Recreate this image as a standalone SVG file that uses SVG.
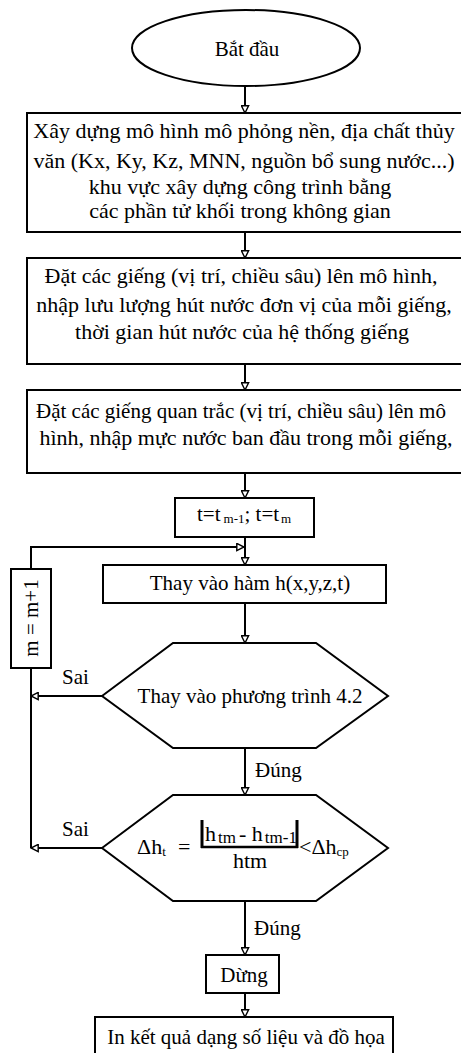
<svg xmlns="http://www.w3.org/2000/svg" width="461" height="1053" viewBox="0 0 461 1053">
  <style>
    .shape { fill: #ffffff; stroke: #000000; stroke-width: 2; }
    .wire { fill: none; stroke: #000000; stroke-width: 2; }
    .t { font-family: "Liberation Serif", "Times New Roman", serif; font-size: 21px; fill: #000000; }
    .big { font-size: 22px; }
    .mid { text-anchor: middle; }
    .sub { font-size: 13px; }
    .sub2 { font-size: 17px; }
  </style>
  <defs>
    <marker id="arrow" viewBox="0 0 10 10" refX="9" refY="5" markerWidth="9" markerHeight="9" markerUnits="userSpaceOnUse" orient="auto">
      <path d="M1,1 L9,5 L1,9 z" fill="#ffffff" stroke="#000000" stroke-width="1.6"/>
    </marker>
  </defs>
  <rect width="461" height="1053" fill="#ffffff"/>

  <!-- connectors -->
  <g id="connectors">
    <line class="wire" x1="245" y1="86" x2="245" y2="113" marker-end="url(#arrow)"/>
    <line class="wire" x1="245" y1="232" x2="245" y2="258" marker-end="url(#arrow)"/>
    <line class="wire" x1="245" y1="364" x2="245" y2="390" marker-end="url(#arrow)"/>
    <line class="wire" x1="245" y1="473" x2="245" y2="498" marker-end="url(#arrow)"/>
    <line class="wire" x1="245" y1="537" x2="245" y2="565" marker-end="url(#arrow)"/>
    <polyline class="wire" points="31,569 31,547 244,547" marker-end="url(#arrow)"/>
    <line class="wire" x1="245" y1="603" x2="245" y2="643" marker-end="url(#arrow)"/>
    <line class="wire" x1="102" y1="696" x2="31" y2="696" marker-end="url(#arrow)"/>
    <line class="wire" x1="31" y1="668" x2="31" y2="848"/>
    <line class="wire" x1="245" y1="748" x2="245" y2="795" marker-end="url(#arrow)"/>
    <line class="wire" x1="102" y1="848" x2="31" y2="848" marker-end="url(#arrow)"/>
    <line class="wire" x1="245" y1="901" x2="245" y2="955" marker-end="url(#arrow)"/>
    <line class="wire" x1="245" y1="993" x2="245" y2="1017" marker-end="url(#arrow)"/>
    <text class="t" x="62" y="684" font-size="20">Sai</text>
    <text class="t" x="62" y="836" font-size="20">Sai</text>
    <text class="t" x="255" y="777">Đúng</text>
    <text class="t" x="254" y="935">Đúng</text>
  </g>

  <!-- start -->
  <g id="start">
    <ellipse class="shape" cx="246" cy="48" rx="114" ry="38"/>
    <text class="t mid" x="247" y="56">Bắt đầu</text>
  </g>

  <!-- model setup -->
  <g id="model">
    <rect class="shape" x="27" y="113" width="445" height="119"/>
    <text class="t big mid" x="244" y="138">Xây dựng mô hình mô phỏng nền, địa chất thủy</text>
    <text class="t big mid" x="244" y="168">văn (Kx, Ky, Kz, MNN, nguồn bổ sung nước...)</text>
    <text class="t big mid" x="240" y="194">khu vực xây dựng công trình bằng</text>
    <text class="t big mid" x="240" y="218">các phần tử khối trong không gian</text>
  </g>

  <!-- pumping wells -->
  <g id="wells">
    <rect class="shape" x="27" y="258" width="445" height="106"/>
    <text class="t big mid" x="241" y="283">Đặt các giếng (vị trí, chiều sâu) lên mô hình,</text>
    <text class="t big mid" x="244" y="312">nhập lưu lượng hút nước đơn vị của mỗi giếng,</text>
    <text class="t big mid" x="242" y="339">thời gian hút nước của hệ thống giếng</text>
  </g>

  <!-- observation wells -->
  <g id="observation">
    <rect class="shape" x="27" y="390" width="445" height="83"/>
    <text class="t" x="36" y="418">Đặt các giếng quan trắc (vị trí, chiều sâu) lên mô</text>
    <text class="t big mid" x="246" y="445">hình, nhập mực nước ban đầu trong mỗi giếng,</text>
  </g>

  <!-- time step -->
  <g id="timestep">
    <rect class="shape" x="175" y="498" width="139" height="39"/>
    <text class="t" x="197" y="521">t=t<tspan class="sub" dx="3" dy="2">m-1</tspan><tspan dy="-2">; t=t</tspan><tspan class="sub" dx="2" dy="2">m</tspan></text>
  </g>

  <!-- counter -->
  <g id="counter">
    <rect class="shape" x="11" y="569" width="40" height="99"/>
    <text class="t mid" transform="translate(38 618) rotate(-90)" font-size="20">m = m+1</text>
  </g>

  <!-- substitute function -->
  <g id="substitute">
    <rect class="shape" x="103" y="565" width="283" height="38"/>
    <text class="t mid" x="250" y="590">Thay vào hàm h(x,y,z,t)</text>
  </g>

  <!-- equation check -->
  <g id="equation">
    <polygon class="shape" points="102,696 173,643 316,643 388,696 316,748 173,748"/>
    <text class="t mid" x="250" y="703">Thay vào phương trình 4.2</text>
  </g>

  <!-- convergence check -->
  <g id="convergence">
    <polygon class="shape" points="102,848 173,795 316,795 388,848 316,901 173,901"/>
    <text class="t big" x="137" y="854">Δh<tspan class="sub" dy="2">t</tspan></text>
    <text class="t big" x="178" y="854">=</text>
    <line x1="202" y1="820" x2="202" y2="848" stroke="#000" stroke-width="3"/>
    <line x1="297" y1="820" x2="297" y2="848" stroke="#000" stroke-width="3"/>
    <line x1="201" y1="847" x2="298" y2="847" stroke="#000" stroke-width="2.5"/>
    <text class="t big" x="205" y="841">h<tspan class="sub2" dx="2" dy="2">tm</tspan><tspan dx="3" dy="-2">- h</tspan><tspan class="sub2" dx="2" dy="2">tm-1</tspan></text>
    <text class="t big mid" x="250" y="868">htm</text>
    <text class="t big" x="299" y="854">&lt;Δh<tspan class="sub" dy="2">cp</tspan></text>
  </g>

  <!-- stop -->
  <g id="stop">
    <rect class="shape" x="206" y="955" width="73" height="38"/>
    <text class="t mid" x="244" y="982">Dừng</text>
  </g>

  <!-- output -->
  <g id="output">
    <rect class="shape" x="95" y="1017" width="298" height="50"/>
    <text class="t mid" x="246" y="1044" font-size="21.5">In kết quả dạng số liệu và đồ họa</text>
  </g>
</svg>
